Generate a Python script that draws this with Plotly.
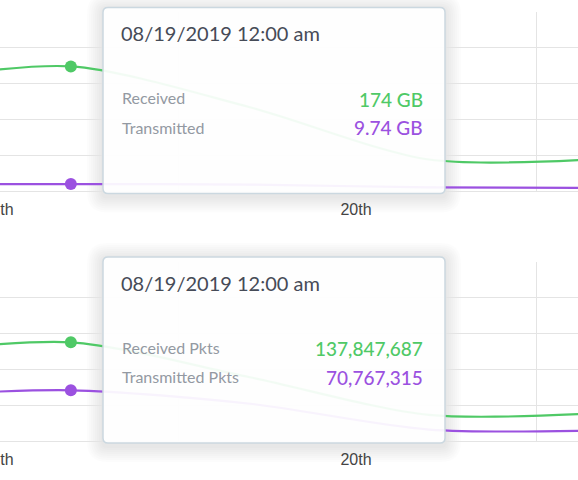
import plotly.graph_objects as go
from plotly.subplots import make_subplots

# ---- data ----
times = ["2019-08-17 09:30", "2019-08-18 09:30", "2019-08-19 09:30",
         "2019-08-20 09:30", "2019-08-21 09:30"]
received_gb = [150, 174, 117, 44, 45.5]
transmitted_gb = [9.5, 9.74, 9.0, 5.0, 4.2]
received_pkts = [120e6, 137847687, 89e6, 36.5e6, 39.5e6]
transmitted_pkts = [62e6, 70767315, 52e6, 16e6, 15e6]
hover_index = 1

label_days = ["2019-08-18", "2019-08-20"]
grid_days = ["2019-08-19", "2019-08-21"]

tooltip_title = "08/19/2019 12:00 am"
top_labels = ["Received", "Transmitted"]
top_values = ["174 GB", "9.74 GB"]
bottom_labels = ["Received Pkts", "Transmitted Pkts"]
bottom_values = ["137,847,687", "70,767,315"]

GREEN = "#4fc966"
PURPLE = "#9b51e0"
GRID = "#e4e4e4"

W, H = 578, 480


def px(x):
    return x / W


def py(y):
    return 1 - y / H


fig = make_subplots(rows=2, cols=1, shared_xaxes=False, vertical_spacing=0.1)

for row, (g, p) in enumerate([(received_gb, transmitted_gb),
                              (received_pkts, transmitted_pkts)], start=1):
    fig.add_trace(go.Scatter(x=times, y=g, mode="lines",
                             line=dict(color=GREEN, width=2.2, shape="spline", smoothing=0.8),
                             showlegend=False, hoverinfo="skip"), row=row, col=1)
    fig.add_trace(go.Scatter(x=times, y=p, mode="lines",
                             line=dict(color=PURPLE, width=2.2, shape="spline", smoothing=0.8),
                             showlegend=False, hoverinfo="skip"), row=row, col=1)
    fig.add_trace(go.Scatter(x=[times[hover_index]], y=[g[hover_index]], mode="markers",
                             marker=dict(color=GREEN, size=12),
                             showlegend=False, hoverinfo="skip"), row=row, col=1)
    fig.add_trace(go.Scatter(x=[times[hover_index]], y=[p[hover_index]], mode="markers",
                             marker=dict(color=PURPLE, size=12),
                             showlegend=False, hoverinfo="skip"), row=row, col=1)

xrange = ["2019-08-18 00:00", "2019-08-21 05:30"]
xcommon = dict(type="date", range=xrange, tickmode="array", tickvals=label_days,
               tickformat="%-dth", showgrid=False, zeroline=False, showline=False, ticks="",
               ticklabelstandoff=7, ticklabelshift=-2, ticklabeloverflow="allow",
               automargin=False,
               minor=dict(tickmode="array", tickvals=grid_days, showgrid=True,
                          gridcolor=GRID, gridwidth=1, ticks=""),
               tickfont=dict(family="Liberation Sans, Arial", size=16, color="#444444"))
fig.update_layout(
    xaxis=dict(domain=[0, 1], anchor="y", **xcommon),
    xaxis2=dict(domain=[0, 1], anchor="y2", **xcommon),
    yaxis=dict(domain=[py(191), py(12)], range=[0, 250], dtick=50, showticklabels=False,
               gridcolor=GRID, zeroline=True, zerolinecolor=GRID, zerolinewidth=1,
               anchor="x", automargin=False),
    yaxis2=dict(domain=[py(441), py(262)], range=[0, 250e6], dtick=50e6, showticklabels=False,
                gridcolor=GRID, zeroline=True, zerolinecolor=GRID, zerolinewidth=1,
                anchor="x2", automargin=False),
    width=W, height=H, margin=dict(l=0, r=0, t=0, b=0, autoexpand=False),
    paper_bgcolor="white", plot_bgcolor="rgba(0,0,0,0)",
)


def rounded_path(x0, y0, x1, y1, r):
    rx, ry = r / W, r / H
    X0, X1 = px(x0), px(x1)
    Y0, Y1 = py(y0), py(y1)  # Y0 top (larger), Y1 bottom
    return (f"M {X0 + rx},{Y0} L {X1 - rx},{Y0} Q {X1},{Y0} {X1},{Y0 - ry} "
            f"L {X1},{Y1 + ry} Q {X1},{Y1} {X1 - rx},{Y1} "
            f"L {X0 + rx},{Y1} Q {X0},{Y1} {X0},{Y1 + ry} "
            f"L {X0},{Y0 - ry} Q {X0},{Y0} {X0 + rx},{Y0} Z")


shapes = []
annotations = []
boxes = [(103, 7.5, 445, 193.5), (103, 257, 445, 443)]
for (x0, y0, x1, y1), labels, values in zip(boxes, [top_labels, bottom_labels],
                                            [top_values, bottom_values]):
    # soft shadow (under the grid and lines)
    for k in range(1, 9):
        d = 2.0 * k
        shapes.append(dict(type="path", xref="paper", yref="paper", layer="below",
                           path=rounded_path(x0 - d, y0 - d + 2, x1 + d, y1 + d + 3, 4 + d),
                           fillcolor="rgba(0,0,0,0.010)", line=dict(width=0)))
    shapes.append(dict(type="path", xref="paper", yref="paper", layer="above",
                       path=rounded_path(x0, y0, x1, y1, 5),
                       fillcolor="rgba(255,255,255,0.93)",
                       line=dict(color="#cbd8e0", width=1.5)))
    annotations.append(dict(xref="paper", yref="paper", x=px(119), y=py(y0 + 25.5),
                            xanchor="left", yanchor="middle", showarrow=False,
                            text=tooltip_title,
                            font=dict(family="Lato", size=20, color="#464b57")))
    for i, (lab, val, col) in enumerate(zip(labels, values, [GREEN, PURPLE])):
        yc = y0 + 90.5 + i * 29
        annotations.append(dict(xref="paper", yref="paper", x=px(120), y=py(yc),
                                xanchor="left", yanchor="middle", showarrow=False,
                                text=lab, font=dict(family="Lato", size=16, color="#9399a2")))
        annotations.append(dict(xref="paper", yref="paper", x=px(425), y=py(yc + 1),
                                xanchor="right", yanchor="middle", showarrow=False,
                                text=val, font=dict(family="Lato", size=19, color=col,
                                                    weight=500)))

fig.update_layout(shapes=shapes, annotations=annotations)
fig.write_html("out.html", config={"displayModeBar": False},
               post_script="document.body.style.margin='0';")
